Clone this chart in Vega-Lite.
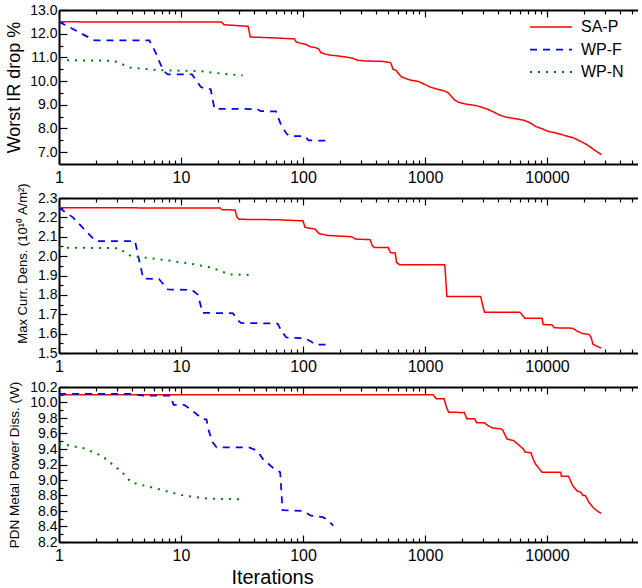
{
  "$schema": "https://vega.github.io/schema/vega-lite/v6.json",
  "padding": {"left": 5, "top": 3, "right": 0, "bottom": 2},
  "background": "white",
  "bounds": "flush",
  "spacing": 34,
  "config": {
    "font": "Liberation Sans",
    "view": {"stroke": null},
    "axis": {
      "grid": false,
      "domainColor": "black",
      "domainWidth": 2,
      "tickColor": "black",
      "tickWidth": 1.2,
      "tickCount": 200,
      "labelColor": "black",
      "titleColor": "black",
      "labelFont": "Liberation Sans",
      "titleFont": "Liberation Sans",
      "titleFontWeight": "normal"
    }
  },
  "datasets": {
    "ir": [
      {"s": "SA-P", "it": 1, "v": 12.5}, {"s": "SA-P", "it": 21.5, "v": 12.49}, {"s": "SA-P", "it": 22.5, "v": 12.38}, {"s": "SA-P", "it": 35.5, "v": 12.31}, {"s": "SA-P", "it": 37, "v": 11.86}, {"s": "SA-P", "it": 60, "v": 11.82}, {"s": "SA-P", "it": 85, "v": 11.78}, {"s": "SA-P", "it": 88, "v": 11.65}, {"s": "SA-P", "it": 95, "v": 11.6}, {"s": "SA-P", "it": 105, "v": 11.55}, {"s": "SA-P", "it": 115, "v": 11.45}, {"s": "SA-P", "it": 125, "v": 11.42}, {"s": "SA-P", "it": 135, "v": 11.35}, {"s": "SA-P", "it": 140, "v": 11.2}, {"s": "SA-P", "it": 150, "v": 11.15}, {"s": "SA-P", "it": 165, "v": 11.1}, {"s": "SA-P", "it": 200, "v": 11.05}, {"s": "SA-P", "it": 235, "v": 11.0}, {"s": "SA-P", "it": 260, "v": 10.95}, {"s": "SA-P", "it": 280, "v": 10.88}, {"s": "SA-P", "it": 320, "v": 10.85}, {"s": "SA-P", "it": 450, "v": 10.83}, {"s": "SA-P", "it": 520, "v": 10.78}, {"s": "SA-P", "it": 535, "v": 10.65}, {"s": "SA-P", "it": 545, "v": 10.5}, {"s": "SA-P", "it": 580, "v": 10.45}, {"s": "SA-P", "it": 610, "v": 10.3}, {"s": "SA-P", "it": 640, "v": 10.18}, {"s": "SA-P", "it": 700, "v": 10.1}, {"s": "SA-P", "it": 760, "v": 10.04}, {"s": "SA-P", "it": 850, "v": 10.0}, {"s": "SA-P", "it": 920, "v": 9.95}, {"s": "SA-P", "it": 1000, "v": 9.85}, {"s": "SA-P", "it": 1100, "v": 9.75}, {"s": "SA-P", "it": 1250, "v": 9.66}, {"s": "SA-P", "it": 1450, "v": 9.58}, {"s": "SA-P", "it": 1550, "v": 9.5}, {"s": "SA-P", "it": 1650, "v": 9.35}, {"s": "SA-P", "it": 1750, "v": 9.2}, {"s": "SA-P", "it": 1900, "v": 9.1}, {"s": "SA-P", "it": 2200, "v": 9.02}, {"s": "SA-P", "it": 2600, "v": 8.97}, {"s": "SA-P", "it": 2900, "v": 8.9}, {"s": "SA-P", "it": 3300, "v": 8.8}, {"s": "SA-P", "it": 3700, "v": 8.68}, {"s": "SA-P", "it": 4100, "v": 8.56}, {"s": "SA-P", "it": 4600, "v": 8.48}, {"s": "SA-P", "it": 5400, "v": 8.42}, {"s": "SA-P", "it": 6400, "v": 8.35}, {"s": "SA-P", "it": 7200, "v": 8.25}, {"s": "SA-P", "it": 8100, "v": 8.08}, {"s": "SA-P", "it": 9000, "v": 8.0}, {"s": "SA-P", "it": 10200, "v": 7.88}, {"s": "SA-P", "it": 12000, "v": 7.8}, {"s": "SA-P", "it": 14500, "v": 7.68}, {"s": "SA-P", "it": 16500, "v": 7.6}, {"s": "SA-P", "it": 19000, "v": 7.45}, {"s": "SA-P", "it": 21500, "v": 7.3}, {"s": "SA-P", "it": 24000, "v": 7.12}, {"s": "SA-P", "it": 26500, "v": 6.97}, {"s": "SA-P", "it": 28000, "v": 6.9},
      {"s": "WP-F", "it": 1, "v": 12.5}, {"s": "WP-F", "it": 1.3, "v": 12.2}, {"s": "WP-F", "it": 1.6, "v": 11.95}, {"s": "WP-F", "it": 1.95, "v": 11.72}, {"s": "WP-F", "it": 5.5, "v": 11.72}, {"s": "WP-F", "it": 6.2, "v": 11.2}, {"s": "WP-F", "it": 6.8, "v": 10.7}, {"s": "WP-F", "it": 7.3, "v": 10.4}, {"s": "WP-F", "it": 7.8, "v": 10.28}, {"s": "WP-F", "it": 12.3, "v": 10.28}, {"s": "WP-F", "it": 14.5, "v": 9.76}, {"s": "WP-F", "it": 15.5, "v": 9.68}, {"s": "WP-F", "it": 17.5, "v": 9.66}, {"s": "WP-F", "it": 18.8, "v": 8.83}, {"s": "WP-F", "it": 42, "v": 8.82}, {"s": "WP-F", "it": 45, "v": 8.73}, {"s": "WP-F", "it": 60, "v": 8.72}, {"s": "WP-F", "it": 67, "v": 8.07}, {"s": "WP-F", "it": 74, "v": 7.76}, {"s": "WP-F", "it": 78, "v": 7.68}, {"s": "WP-F", "it": 103, "v": 7.68}, {"s": "WP-F", "it": 111, "v": 7.5}, {"s": "WP-F", "it": 160, "v": 7.48},
      {"s": "WP-N", "it": 1, "v": 10.88}, {"s": "WP-N", "it": 2.8, "v": 10.86}, {"s": "WP-N", "it": 3.9, "v": 10.56}, {"s": "WP-N", "it": 6.6, "v": 10.46}, {"s": "WP-N", "it": 14.4, "v": 10.42}, {"s": "WP-N", "it": 22.8, "v": 10.3}, {"s": "WP-N", "it": 32, "v": 10.24}
    ],
    "curr": [
      {"s": "SA-P", "it": 1, "v": 2.25}, {"s": "SA-P", "it": 21, "v": 2.248}, {"s": "SA-P", "it": 21.5, "v": 2.24}, {"s": "SA-P", "it": 27.7, "v": 2.238}, {"s": "SA-P", "it": 28.8, "v": 2.2}, {"s": "SA-P", "it": 30, "v": 2.19}, {"s": "SA-P", "it": 60, "v": 2.188}, {"s": "SA-P", "it": 100, "v": 2.182}, {"s": "SA-P", "it": 104, "v": 2.148}, {"s": "SA-P", "it": 125, "v": 2.14}, {"s": "SA-P", "it": 135, "v": 2.117}, {"s": "SA-P", "it": 158, "v": 2.107}, {"s": "SA-P", "it": 250, "v": 2.1}, {"s": "SA-P", "it": 270, "v": 2.088}, {"s": "SA-P", "it": 355, "v": 2.085}, {"s": "SA-P", "it": 370, "v": 2.053}, {"s": "SA-P", "it": 385, "v": 2.045}, {"s": "SA-P", "it": 500, "v": 2.045}, {"s": "SA-P", "it": 520, "v": 2.018}, {"s": "SA-P", "it": 570, "v": 2.016}, {"s": "SA-P", "it": 585, "v": 1.967}, {"s": "SA-P", "it": 620, "v": 1.955}, {"s": "SA-P", "it": 1450, "v": 1.955}, {"s": "SA-P", "it": 1470, "v": 1.91}, {"s": "SA-P", "it": 1510, "v": 1.792}, {"s": "SA-P", "it": 2860, "v": 1.792}, {"s": "SA-P", "it": 2960, "v": 1.75}, {"s": "SA-P", "it": 3080, "v": 1.71}, {"s": "SA-P", "it": 6000, "v": 1.71}, {"s": "SA-P", "it": 6600, "v": 1.68}, {"s": "SA-P", "it": 9100, "v": 1.68}, {"s": "SA-P", "it": 9300, "v": 1.647}, {"s": "SA-P", "it": 11000, "v": 1.645}, {"s": "SA-P", "it": 11500, "v": 1.63}, {"s": "SA-P", "it": 16300, "v": 1.628}, {"s": "SA-P", "it": 17600, "v": 1.613}, {"s": "SA-P", "it": 19700, "v": 1.6}, {"s": "SA-P", "it": 22100, "v": 1.596}, {"s": "SA-P", "it": 23000, "v": 1.58}, {"s": "SA-P", "it": 23800, "v": 1.545}, {"s": "SA-P", "it": 25600, "v": 1.535}, {"s": "SA-P", "it": 27800, "v": 1.526},
      {"s": "WP-F", "it": 1, "v": 2.25}, {"s": "WP-F", "it": 1.3, "v": 2.2}, {"s": "WP-F", "it": 1.78, "v": 2.11}, {"s": "WP-F", "it": 2, "v": 2.078}, {"s": "WP-F", "it": 4.2, "v": 2.078}, {"s": "WP-F", "it": 4.5, "v": 1.99}, {"s": "WP-F", "it": 4.9, "v": 1.885}, {"s": "WP-F", "it": 6.6, "v": 1.882}, {"s": "WP-F", "it": 7.8, "v": 1.828}, {"s": "WP-F", "it": 12.3, "v": 1.826}, {"s": "WP-F", "it": 13.8, "v": 1.8}, {"s": "WP-F", "it": 15, "v": 1.707}, {"s": "WP-F", "it": 26.7, "v": 1.705}, {"s": "WP-F", "it": 28.8, "v": 1.673}, {"s": "WP-F", "it": 31, "v": 1.655}, {"s": "WP-F", "it": 62, "v": 1.652}, {"s": "WP-F", "it": 67, "v": 1.61}, {"s": "WP-F", "it": 73, "v": 1.58}, {"s": "WP-F", "it": 103, "v": 1.576}, {"s": "WP-F", "it": 116, "v": 1.56}, {"s": "WP-F", "it": 125, "v": 1.543}, {"s": "WP-F", "it": 164, "v": 1.543},
      {"s": "WP-N", "it": 1, "v": 2.044}, {"s": "WP-N", "it": 3.07, "v": 2.041}, {"s": "WP-N", "it": 3.9, "v": 2.0}, {"s": "WP-N", "it": 6.6, "v": 1.984}, {"s": "WP-N", "it": 12.3, "v": 1.96}, {"s": "WP-N", "it": 18, "v": 1.94}, {"s": "WP-N", "it": 24.7, "v": 1.906}, {"s": "WP-N", "it": 36, "v": 1.903}
    ],
    "power": [
      {"s": "SA-P", "it": 1, "v": 10.1}, {"s": "SA-P", "it": 1170, "v": 10.1}, {"s": "SA-P", "it": 1230, "v": 10.05}, {"s": "SA-P", "it": 1430, "v": 10.05}, {"s": "SA-P", "it": 1500, "v": 9.94}, {"s": "SA-P", "it": 1560, "v": 9.876}, {"s": "SA-P", "it": 2100, "v": 9.87}, {"s": "SA-P", "it": 2200, "v": 9.79}, {"s": "SA-P", "it": 2550, "v": 9.79}, {"s": "SA-P", "it": 2650, "v": 9.74}, {"s": "SA-P", "it": 3050, "v": 9.74}, {"s": "SA-P", "it": 3300, "v": 9.7}, {"s": "SA-P", "it": 3600, "v": 9.67}, {"s": "SA-P", "it": 4200, "v": 9.66}, {"s": "SA-P", "it": 4350, "v": 9.64}, {"s": "SA-P", "it": 4700, "v": 9.53}, {"s": "SA-P", "it": 5300, "v": 9.51}, {"s": "SA-P", "it": 5700, "v": 9.47}, {"s": "SA-P", "it": 6400, "v": 9.4}, {"s": "SA-P", "it": 6600, "v": 9.36}, {"s": "SA-P", "it": 7400, "v": 9.35}, {"s": "SA-P", "it": 7700, "v": 9.27}, {"s": "SA-P", "it": 8100, "v": 9.2}, {"s": "SA-P", "it": 9100, "v": 9.1}, {"s": "SA-P", "it": 13000, "v": 9.1}, {"s": "SA-P", "it": 13100, "v": 9.05}, {"s": "SA-P", "it": 15000, "v": 9.05}, {"s": "SA-P", "it": 16200, "v": 8.93}, {"s": "SA-P", "it": 17600, "v": 8.86}, {"s": "SA-P", "it": 19000, "v": 8.84}, {"s": "SA-P", "it": 19700, "v": 8.8}, {"s": "SA-P", "it": 20600, "v": 8.8}, {"s": "SA-P", "it": 22100, "v": 8.71}, {"s": "SA-P", "it": 23900, "v": 8.645}, {"s": "SA-P", "it": 25800, "v": 8.6}, {"s": "SA-P", "it": 27800, "v": 8.57},
      {"s": "WP-F", "it": 1, "v": 10.11}, {"s": "WP-F", "it": 3.9, "v": 10.11}, {"s": "WP-F", "it": 4.9, "v": 10.09}, {"s": "WP-F", "it": 8.1, "v": 10.09}, {"s": "WP-F", "it": 8.7, "v": 9.97}, {"s": "WP-F", "it": 10.6, "v": 9.97}, {"s": "WP-F", "it": 11.8, "v": 9.92}, {"s": "WP-F", "it": 13.3, "v": 9.855}, {"s": "WP-F", "it": 14.9, "v": 9.79}, {"s": "WP-F", "it": 16.2, "v": 9.78}, {"s": "WP-F", "it": 16.7, "v": 9.66}, {"s": "WP-F", "it": 18.1, "v": 9.49}, {"s": "WP-F", "it": 19.6, "v": 9.42}, {"s": "WP-F", "it": 36, "v": 9.42}, {"s": "WP-F", "it": 42, "v": 9.38}, {"s": "WP-F", "it": 47, "v": 9.27}, {"s": "WP-F", "it": 57.5, "v": 9.15}, {"s": "WP-F", "it": 65, "v": 9.1}, {"s": "WP-F", "it": 68, "v": 8.61}, {"s": "WP-F", "it": 100, "v": 8.6}, {"s": "WP-F", "it": 116, "v": 8.54}, {"s": "WP-F", "it": 145, "v": 8.52}, {"s": "WP-F", "it": 158, "v": 8.49}, {"s": "WP-F", "it": 177, "v": 8.41},
      {"s": "WP-N", "it": 1, "v": 9.47}, {"s": "WP-N", "it": 1.59, "v": 9.41}, {"s": "WP-N", "it": 2.25, "v": 9.31}, {"s": "WP-N", "it": 3.3, "v": 9.1}, {"s": "WP-N", "it": 3.9, "v": 8.97}, {"s": "WP-N", "it": 6.6, "v": 8.88}, {"s": "WP-N", "it": 10.5, "v": 8.8}, {"s": "WP-N", "it": 16.7, "v": 8.76}, {"s": "WP-N", "it": 32, "v": 8.75}
    ]
  },
  "resolve": {"scale": {"x": "independent", "y": "independent", "color": "independent", "strokeDash": "independent", "strokeWidth": "independent"}},
  "vconcat": [
    {
      "width": 579,
      "height": 154,
      "data": {"name": "ir"},
      "resolve": {"axis": {"x": "independent"}},
      "layer": [
        {
          "mark": {"type": "line"},
          "encoding": {
            "x": {"field": "it", "type": "quantitative", "scale": {"type": "log", "domain": [1, 55700], "nice": false},
              "axis": {"orient": "bottom", "title": null, "tickCount": 200, "values": [1,2,3,4,5,6,7,8,9,10,20,30,40,50,60,70,80,90,100,200,300,400,500,600,700,800,900,1000,2000,3000,4000,5000,6000,7000,8000,9000,10000,20000,30000,40000,50000],
                "labelExpr": "abs(log(datum.value)/LN10 - round(log(datum.value)/LN10)) < 0.001 ? format(datum.value, 'd') : ''",
                "tickSize": {"condition": {"test": "abs(log(datum.value)/LN10 - round(log(datum.value)/LN10)) < 0.001", "value": -7}, "value": -4},
                "labelFontSize": 16, "labelPadding": 12, "labelFlush": false, "labelOverlap": false}},
            "y": {"field": "v", "type": "quantitative", "scale": {"domain": [6.5, 13], "nice": false, "zero": false},
              "axis": {"title": "Worst IR drop %", "titleFontSize": 18, "tickCount": 200, "values": [7,7.5,8,8.5,9,9.5,10,10.5,11,11.5,12,12.5,13],
                "labelExpr": "datum.value % 1 == 0 ? format(datum.value, '.1f') : ''",
                "tickSize": {"condition": {"test": "datum.value % 1 == 0", "value": -8}, "value": -4},
                "labelFontSize": 14, "labelPadding": 10, "titlePadding": 6, "labelFlush": false, "labelOverlap": false}},
            "color": {"field": "s", "type": "nominal", "scale": {"domain": ["SA-P", "WP-F", "WP-N"], "range": ["#ff0000", "#0000ff", "#008000"]},
              "legend": {"title": null, "orient": "none", "legendX": 500, "legendY": 9, "labelFontSize": 16, "symbolType": "M-7.4,0H1", "symbolSize": 100, "symbolStrokeWidth": 2, "labelOffset": 6, "rowPadding": 6.5, "labelColor": "black"}},
            "strokeDash": {"field": "s", "type": "nominal", "scale": {"domain": ["SA-P", "WP-F", "WP-N"], "range": [[1, 0], [7, 6], [2, 6]]}},
            "strokeWidth": {"field": "s", "type": "nominal", "scale": {"domain": ["SA-P", "WP-F", "WP-N"], "range": [1.5, 2, 2.2]}, "legend": null}
          }
        },
        {
          "mark": {"type": "line", "opacity": 0},
          "encoding": {
            "x": {"field": "it", "type": "quantitative",
              "axis": {"orient": "top", "title": null, "labels": false, "tickCount": 200, "values": [1,2,3,4,5,6,7,8,9,10,20,30,40,50,60,70,80,90,100,200,300,400,500,600,700,800,900,1000,2000,3000,4000,5000,6000,7000,8000,9000,10000,20000,30000,40000,50000],
                "tickSize": {"condition": {"test": "abs(log(datum.value)/LN10 - round(log(datum.value)/LN10)) < 0.001", "value": -7}, "value": -4}}},
            "y": {"field": "v", "type": "quantitative"}
          }
        }
      ]
    },
    {
      "width": 579,
      "height": 155,
      "data": {"name": "curr"},
      "resolve": {"axis": {"x": "independent"}},
      "layer": [
        {
          "mark": {"type": "line"},
          "encoding": {
            "x": {"field": "it", "type": "quantitative", "scale": {"type": "log", "domain": [1, 55700], "nice": false},
              "axis": {"orient": "bottom", "title": null, "tickCount": 200, "values": [1,2,3,4,5,6,7,8,9,10,20,30,40,50,60,70,80,90,100,200,300,400,500,600,700,800,900,1000,2000,3000,4000,5000,6000,7000,8000,9000,10000,20000,30000,40000,50000],
                "labelExpr": "abs(log(datum.value)/LN10 - round(log(datum.value)/LN10)) < 0.001 ? format(datum.value, 'd') : ''",
                "tickSize": {"condition": {"test": "abs(log(datum.value)/LN10 - round(log(datum.value)/LN10)) < 0.001", "value": -7}, "value": -4},
                "labelFontSize": 16, "labelPadding": 12, "labelFlush": false, "labelOverlap": false}},
            "y": {"field": "v", "type": "quantitative", "scale": {"domain": [1.5, 2.3], "nice": false, "zero": false},
              "axis": {"title": "Max Curr. Dens. (10¹⁰ A/m²)", "titleFontSize": 13, "titleY": 65, "tickCount": 200, "values": [1.5,1.55,1.6,1.65,1.7,1.75,1.8,1.85,1.9,1.95,2.0,2.05,2.1,2.15,2.2,2.25,2.3],
                "labelExpr": "abs(datum.value*10 - round(datum.value*10)) < 0.001 ? format(datum.value, '.1f') : ''",
                "tickSize": {"condition": {"test": "abs(datum.value*10 - round(datum.value*10)) < 0.001", "value": -8}, "value": -4},
                "labelFontSize": 14, "labelPadding": 10, "titlePadding": 8, "labelFlush": false, "labelOverlap": false}},
            "color": {"field": "s", "type": "nominal", "scale": {"domain": ["SA-P", "WP-F", "WP-N"], "range": ["#ff0000", "#0000ff", "#008000"]}, "legend": null},
            "strokeDash": {"field": "s", "type": "nominal", "scale": {"domain": ["SA-P", "WP-F", "WP-N"], "range": [[1, 0], [7, 6], [2, 6]]}, "legend": null},
            "strokeWidth": {"field": "s", "type": "nominal", "scale": {"domain": ["SA-P", "WP-F", "WP-N"], "range": [1.5, 2, 2.2]}, "legend": null}
          }
        },
        {
          "mark": {"type": "line", "opacity": 0},
          "encoding": {
            "x": {"field": "it", "type": "quantitative",
              "axis": {"orient": "top", "title": null, "labels": false, "tickCount": 200, "values": [1,2,3,4,5,6,7,8,9,10,20,30,40,50,60,70,80,90,100,200,300,400,500,600,700,800,900,1000,2000,3000,4000,5000,6000,7000,8000,9000,10000,20000,30000,40000,50000],
                "tickSize": {"condition": {"test": "abs(log(datum.value)/LN10 - round(log(datum.value)/LN10)) < 0.001", "value": -7}, "value": -4}}},
            "y": {"field": "v", "type": "quantitative"}
          }
        }
      ]
    },
    {
      "width": 579,
      "height": 155,
      "data": {"name": "power"},
      "resolve": {"axis": {"x": "independent"}},
      "layer": [
        {
          "mark": {"type": "line"},
          "encoding": {
            "x": {"field": "it", "type": "quantitative", "scale": {"type": "log", "domain": [1, 55700], "nice": false},
              "axis": {"orient": "bottom", "title": "Iterations", "titleFontSize": 20, "titleX": 213, "titlePadding": 1, "tickCount": 200, "values": [1,2,3,4,5,6,7,8,9,10,20,30,40,50,60,70,80,90,100,200,300,400,500,600,700,800,900,1000,2000,3000,4000,5000,6000,7000,8000,9000,10000,20000,30000,40000,50000],
                "labelExpr": "abs(log(datum.value)/LN10 - round(log(datum.value)/LN10)) < 0.001 ? format(datum.value, 'd') : ''",
                "tickSize": {"condition": {"test": "abs(log(datum.value)/LN10 - round(log(datum.value)/LN10)) < 0.001", "value": -7}, "value": -4},
                "labelFontSize": 16, "labelPadding": 12, "labelFlush": false, "labelOverlap": false}},
            "y": {"field": "v", "type": "quantitative", "scale": {"domain": [8.2, 10.2], "nice": false, "zero": false},
              "axis": {"title": "PDN Metal Power Diss. (W)", "titleFontSize": 13.5, "tickCount": 200, "values": [8.2,8.3,8.4,8.5,8.6,8.7,8.8,8.9,9.0,9.1,9.2,9.3,9.4,9.5,9.6,9.7,9.8,9.9,10.0,10.1,10.2],
                "labelExpr": "abs(datum.value*5 - round(datum.value*5)) < 0.001 ? format(datum.value, '.1f') : ''",
                "tickSize": {"condition": {"test": "abs(datum.value*5 - round(datum.value*5)) < 0.001", "value": -8}, "value": -4},
                "labelFontSize": 14, "labelPadding": 10, "titlePadding": 8, "labelFlush": false, "labelOverlap": false}},
            "color": {"field": "s", "type": "nominal", "scale": {"domain": ["SA-P", "WP-F", "WP-N"], "range": ["#ff0000", "#0000ff", "#008000"]}, "legend": null},
            "strokeDash": {"field": "s", "type": "nominal", "scale": {"domain": ["SA-P", "WP-F", "WP-N"], "range": [[1, 0], [7, 6], [2, 6]]}, "legend": null},
            "strokeWidth": {"field": "s", "type": "nominal", "scale": {"domain": ["SA-P", "WP-F", "WP-N"], "range": [1.5, 2, 2.2]}, "legend": null}
          }
        },
        {
          "mark": {"type": "line", "opacity": 0},
          "encoding": {
            "x": {"field": "it", "type": "quantitative",
              "axis": {"orient": "top", "title": null, "labels": false, "tickCount": 200, "values": [1,2,3,4,5,6,7,8,9,10,20,30,40,50,60,70,80,90,100,200,300,400,500,600,700,800,900,1000,2000,3000,4000,5000,6000,7000,8000,9000,10000,20000,30000,40000,50000],
                "tickSize": {"condition": {"test": "abs(log(datum.value)/LN10 - round(log(datum.value)/LN10)) < 0.001", "value": -7}, "value": -4}}},
            "y": {"field": "v", "type": "quantitative"}
          }
        }
      ]
    }
  ]
}
